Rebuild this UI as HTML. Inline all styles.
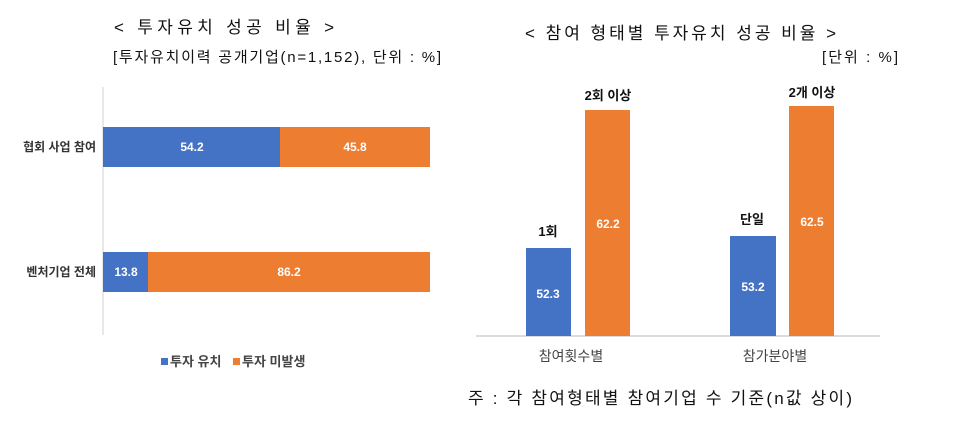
<!DOCTYPE html>
<html><head><meta charset="utf-8"><style>
body{margin:0;background:#fff;width:961px;height:437px;overflow:hidden}
svg text{font-family:"Liberation Sans","Noto Sans CJK KR",sans-serif}
</style></head><body>
<svg width="961" height="437" xmlns="http://www.w3.org/2000/svg">
<text x="114" y="33" font-size="17" textLength="220" lengthAdjust="spacing" fill="#111">&lt; 투자유치 성공 비율 &gt;</text>
<text x="113" y="62" font-size="15" textLength="328" lengthAdjust="spacing" fill="#111">[투자유치이력 공개기업(n=1,152), 단위 : %]</text>
<text x="525" y="39" font-size="17" textLength="311" lengthAdjust="spacing" fill="#111">&lt; 참여 형태별 투자유치 성공 비율 &gt;</text>
<text x="822" y="62" font-size="15" textLength="76" lengthAdjust="spacing" fill="#111">[단위 : %]</text>
<line x1="103" y1="87" x2="103" y2="335" stroke="#d0d0d0"/>
<rect x="103" y="127" width="177" height="40" fill="#4472C4"/>
<rect x="280" y="127" width="150" height="40" fill="#ED7D31"/>
<rect x="103" y="252" width="45" height="40" fill="#4472C4"/>
<rect x="148" y="252" width="282" height="40" fill="#ED7D31"/>
<g font-size="12" font-weight="bold" fill="#fff" text-anchor="middle">
<text x="192" y="151">54.2</text><text x="355" y="151">45.8</text>
<text x="126" y="276">13.8</text><text x="289" y="276">86.2</text></g>
<g font-size="12" font-weight="bold" fill="#333" text-anchor="end">
<text x="96" y="151">협회 사업 참여</text><text x="96" y="276">벤처기업 전체</text></g>
<rect x="161" y="358" width="7" height="7" fill="#4472C4"/>
<text x="170" y="366" font-size="13" font-weight="bold" fill="#444">투자 유치</text>
<rect x="233" y="358" width="7" height="7" fill="#ED7D31"/>
<text x="242" y="366" font-size="13" font-weight="bold" fill="#444">투자 미발생</text>
<line x1="476" y1="336" x2="880" y2="336" stroke="#d0d0d0" stroke-width="1.5"/>
<rect x="526" y="248" width="45" height="88" fill="#4472C4"/>
<rect x="585" y="110" width="45" height="226" fill="#ED7D31"/>
<rect x="730" y="236" width="46" height="100" fill="#4472C4"/>
<rect x="789" y="106" width="45" height="230" fill="#ED7D31"/>
<g font-size="12" font-weight="bold" fill="#fff" text-anchor="middle">
<text x="548" y="298">52.3</text><text x="608" y="228">62.2</text>
<text x="753" y="291">53.2</text><text x="812" y="226">62.5</text></g>
<g font-size="13" font-weight="bold" fill="#111" text-anchor="middle">
<text x="548" y="236">1회</text><text x="608" y="100">2회 이상</text>
<text x="752" y="224">단일</text><text x="812" y="97">2개 이상</text></g>
<g font-size="14" fill="#444" text-anchor="middle">
<text x="571" y="361">참여횟수별</text><text x="775" y="361">참가분야별</text></g>
<text x="468" y="404" font-size="17" textLength="384" lengthAdjust="spacing" fill="#111">주 : 각 참여형태별 참여기업 수 기준(n값 상이)</text>
</svg>
</body></html>
